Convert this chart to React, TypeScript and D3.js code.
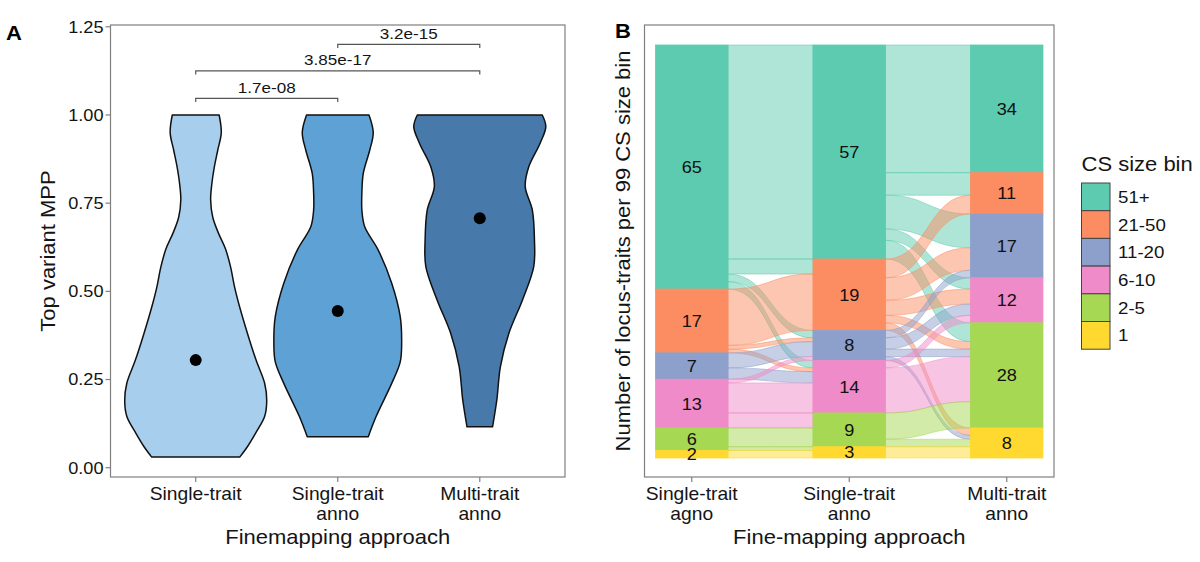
import React from "react";
import * as d3 from "d3";

const FONT = "'Liberation Sans', Arial, Helvetica, sans-serif";
const SX = 1.1;
const TEXT = "#141414";
const AXIS = "#7f7f7f";

// ---------- Panel A data ----------
const approachesA = ["Single-trait", "Single-trait anno", "Multi-trait anno"];
const tickLinesA = [["Single-trait"], ["Single-trait", "anno"], ["Multi-trait", "anno"]];
const violinFills = ["#A7CEEC", "#5EA2D5", "#4779AA"];
// [MPP value, relative density]
const densitySingle: [number, number][] = [
  [1.0, 0.33], [0.95, 0.36], [0.9, 0.31], [0.85, 0.26], [0.81, 0.23], [0.76, 0.21],
  [0.71, 0.24], [0.665, 0.32], [0.62, 0.42], [0.57, 0.49], [0.51, 0.55], [0.455, 0.62],
  [0.38, 0.73], [0.305, 0.85], [0.24, 0.97], [0.19, 1.0], [0.145, 0.97], [0.1, 0.85],
  [0.06, 0.73], [0.03, 0.62],
];
const densitySingleAnno: [number, number][] = [
  [1.0, 0.44], [0.95, 0.5], [0.9, 0.45], [0.835, 0.36], [0.78, 0.34], [0.73, 0.34],
  [0.683, 0.38], [0.617, 0.57], [0.523, 0.76], [0.428, 0.88], [0.353, 0.9], [0.3, 0.88],
  [0.239, 0.76], [0.145, 0.54], [0.088, 0.43],
];
const densityMultiAnno: [number, number][] = [
  [1.0, 0.88], [0.967, 0.93], [0.92, 0.85], [0.853, 0.69], [0.797, 0.64], [0.731, 0.74],
  [0.646, 0.77], [0.57, 0.76], [0.475, 0.6], [0.381, 0.41], [0.286, 0.29], [0.192, 0.24],
  [0.116, 0.18],
];
const densities = [densitySingle, densitySingleAnno, densityMultiAnno];
const meanMPP = [0.305, 0.444, 0.707];
const yTicksA = [0, 0.25, 0.5, 0.75, 1.0, 1.25];
const pLabels = ["1.7e-08", "3.85e-17", "3.2e-15"];
const pPairs: [number, number][] = [[0, 1], [0, 2], [1, 2]];
const pHeights = [1.047, 1.125, 1.2];

// ---------- Panel B data ----------
const approachesB = ["Single-trait agno", "Single-trait anno", "Multi-trait anno"];
const tickLinesB = [["Single-trait", "agno"], ["Single-trait", "anno"], ["Multi-trait", "anno"]];
const csBins = ["51+", "21-50", "11-20", "6-10", "2-5", "1"];
const binColors = ["#5DCBB0", "#FC8D62", "#8DA0CB", "#EF8BC8", "#A6D854", "#FFD92F"];
const countsAgno = [65, 17, 7, 13, 6, 2];
const countsAnno = [57, 19, 8, 14, 9, 3];
const countsMulti = [34, 11, 17, 12, 28, 8];
// [from bin index, to bin index, count]
const flowsAgnoToAnno: [number, number, number][] = [
  [0, 0, 57], [0, 1, 4], [0, 2, 2], [0, 3, 2],
  [1, 1, 15], [1, 2, 1], [1, 3, 1],
  [2, 2, 4], [2, 3, 3],
  [3, 2, 1], [3, 3, 8], [3, 4, 4],
  [4, 4, 5], [4, 5, 1],
  [5, 5, 2],
];
const flowsAnnoToMulti: [number, number, number][] = [
  [0, 0, 34], [0, 1, 6], [0, 2, 9], [0, 3, 3], [0, 4, 5],
  [1, 1, 5], [1, 2, 6], [1, 3, 4], [1, 4, 2], [1, 5, 2],
  [2, 2, 2], [2, 3, 3], [2, 4, 2], [2, 5, 1],
  [3, 3, 2], [3, 4, 12],
  [4, 4, 7], [4, 5, 2],
  [5, 5, 3],
];

type TxtProps = {
  x: number; y: number; size: number; anchor?: string; rot?: number;
  weight?: string; fill?: string; dy?: string; children: React.ReactNode;
};
function Txt({ x, y, size, anchor = "middle", rot = 0, weight = "normal", fill = TEXT, dy, children }: TxtProps) {
  return (
    <text
      transform={`translate(${x},${y}) rotate(${rot}) scale(${SX},1)`}
      fontSize={size}
      fontFamily={FONT}
      textAnchor={anchor as any}
      fontWeight={weight}
      fill={fill}
      dy={dy}
    >
      {children}
    </text>
  );
}

function stack(counts: number[]) {
  let acc = 0;
  return counts.map((c) => {
    const top = acc;
    acc += c;
    return { top, bottom: acc };
  });
}

export default function App() {
  const W = 1200, H = 562;

  // ---- Panel A ----
  const pA = { left: 110.5, right: 565, top: 25, bottom: 477 };
  const xA = d3.scalePoint<string>().domain(approachesA).range([pA.left, pA.right]).padding(0.6);
  const yA = d3.scaleLinear().domain([0, 1.25]).range([467.7, 26.8]);
  const wA = d3.scaleLinear().domain([0, 1]).range([0, 71]);

  const violinPaths = densities.map((dens, i) => {
    const cx = xA(approachesA[i])!;
    const area = d3
      .area<[number, number]>()
      .y((d) => yA(d[0]))
      .x0((d) => cx - wA(d[1]))
      .x1((d) => cx + wA(d[1]))
      .curve(d3.curveCatmullRom);
    return area(dens) || "";
  });

  // ---- Panel B ----
  const pB = { left: 644.5, right: 1054, top: 25, bottom: 477 };
  const xB = d3.scalePoint<string>().domain(approachesB).range([pB.left, pB.right]).padding(0.3);
  const total = d3.sum(countsAgno);
  const yB = d3.scaleLinear().domain([0, total]).range([458, 45]);
  const halfW = xB.step() * 0.23;
  const yFromTop = (v: number) => yB(total - v);

  const columns = [countsAgno, countsAnno, countsMulti];
  const stacks = columns.map(stack);

  const gaps = [flowsAgnoToAnno, flowsAnnoToMulti];
  const flowPaths: { d: string; color: string }[] = [];
  gaps.forEach((flows, g) => {
    const left = stacks[g];
    const right = stacks[g + 1];
    const x0 = xB(approachesB[g])! + halfW;
    const x1 = xB(approachesB[g + 1])! - halfW;
    const xm = (x0 + x1) / 2;
    const leftOff = new Map<string, number>();
    const rightOff = new Map<string, number>();
    csBins.forEach((_, s) => {
      let acc = left[s].top;
      flows.filter((f) => f[0] === s).sort((a, b) => a[1] - b[1]).forEach((f) => {
        leftOff.set(`${f[0]}-${f[1]}`, acc);
        acc += f[2];
      });
    });
    csBins.forEach((_, t) => {
      let acc = right[t].top;
      flows.filter((f) => f[1] === t).sort((a, b) => a[0] - b[0]).forEach((f) => {
        rightOff.set(`${f[0]}-${f[1]}`, acc);
        acc += f[2];
      });
    });
    flows.forEach((f) => {
      const key = `${f[0]}-${f[1]}`;
      const lo = leftOff.get(key)!;
      const ro = rightOff.get(key)!;
      const yl0 = yFromTop(lo), yl1 = yFromTop(lo + f[2]);
      const yr0 = yFromTop(ro), yr1 = yFromTop(ro + f[2]);
      const d = `M${x0},${yl0}C${xm},${yl0} ${xm},${yr0} ${x1},${yr0}L${x1},${yr1}C${xm},${yr1} ${xm},${yl1} ${x0},${yl1}Z`;
      flowPaths.push({ d, color: binColors[f[0]] });
    });
  });

  const legendX = 1081.5, legendY = 183, keyW = 28.5, keyH = 27.7;

  return (
    <svg width={W} height={H} style={{ position: "absolute", left: 0, top: 0, display: "block", background: "#fff" }}>
      <rect width={W} height={H} fill="#fff" />

      {/* ================= Panel A ================= */}
      <Txt x={6} y={40} size={20} anchor="start" weight="bold" fill="#000">A</Txt>
      {violinPaths.map((d, i) => (
        <path key={i} d={d} fill={violinFills[i]} stroke="#111" strokeWidth={1.5} strokeLinejoin="round" />
      ))}
      {meanMPP.map((m, i) => (
        <circle key={i} cx={xA(approachesA[i])!} cy={yA(m)} r={6} fill="#000" />
      ))}
      {pPairs.map(([a, b], i) => {
        const xa = xA(approachesA[a])!, xb = xA(approachesA[b])!;
        const y = yA(pHeights[i]);
        const yd = yA(pHeights[i] - 0.01);
        return (
          <g key={i}>
            <path d={`M${xa},${yd}L${xa},${y}L${xb},${y}L${xb},${yd}`} fill="none" stroke="#555" strokeWidth={1.2} />
            <Txt x={(xa + xb) / 2} y={y - 5.5} size={15.5}>{pLabels[i]}</Txt>
          </g>
        );
      })}
      <rect x={pA.left} y={pA.top} width={pA.right - pA.left} height={pA.bottom - pA.top} fill="none" stroke={AXIS} strokeWidth={1.2} />
      {yTicksA.map((t) => (
        <g key={t}>
          <line x1={pA.left - 5} x2={pA.left} y1={yA(t)} y2={yA(t)} stroke={AXIS} strokeWidth={1.2} />
          <Txt x={pA.left - 7} y={yA(t)} size={16.5} anchor="end" dy="0.36em">{t.toFixed(2)}</Txt>
        </g>
      ))}
      {approachesA.map((c, i) => (
        <g key={c}>
          <line x1={xA(c)!} x2={xA(c)!} y1={pA.bottom} y2={pA.bottom + 5} stroke={AXIS} strokeWidth={1.2} />
          {tickLinesA[i].map((ln, j) => (
            <Txt key={j} x={xA(c)!} y={pA.bottom + 23 + j * 20} size={17.5}>{ln}</Txt>
          ))}
        </g>
      ))}
      <Txt x={(pA.left + pA.right) / 2} y={544} size={20}>Finemapping approach</Txt>
      <Txt x={55} y={(pA.top + pA.bottom) / 2} size={20} rot={-90}>Top variant MPP</Txt>

      {/* ================= Panel B ================= */}
      <Txt x={615} y={38} size={20} anchor="start" weight="bold" fill="#000">B</Txt>
      {flowPaths.map((f, i) => (
        <path key={i} d={f.d} fill={f.color} fillOpacity={0.5} stroke={f.color} strokeOpacity={0.5} strokeWidth={1} />
      ))}
      {stacks.map((st, c) => {
        const cx = xB(approachesB[c])!;
        return (
          <g key={c}>
            {st.map((s, b) => (
              <rect
                key={b}
                x={cx - halfW}
                y={yFromTop(s.top)}
                width={halfW * 2}
                height={yB(0) - yB(s.bottom - s.top)}
                fill={binColors[b]}
                stroke={binColors[b]}
                strokeWidth={0.8}
              />
            ))}
            {st.map((s, b) => (
              <Txt key={`t${b}`} x={cx} y={(yFromTop(s.top) + yFromTop(s.bottom)) / 2} size={16.5} dy="0.36em" fill="#111">
                {columns[c][b]}
              </Txt>
            ))}
          </g>
        );
      })}
      <rect x={pB.left} y={pB.top} width={pB.right - pB.left} height={pB.bottom - pB.top} fill="none" stroke={AXIS} strokeWidth={1.2} />
      {approachesB.map((c, i) => (
        <g key={c}>
          <line x1={xB(c)!} x2={xB(c)!} y1={pB.bottom} y2={pB.bottom + 5} stroke={AXIS} strokeWidth={1.2} />
          {tickLinesB[i].map((ln, j) => (
            <Txt key={j} x={xB(c)!} y={pB.bottom + 23 + j * 20} size={17.5}>{ln}</Txt>
          ))}
        </g>
      ))}
      <Txt x={(pB.left + pB.right) / 2} y={544} size={20}>Fine-mapping approach</Txt>
      <Txt x={630} y={(pB.top + pB.bottom) / 2} size={20} rot={-90}>Number of locus-traits per 99 CS size bin</Txt>

      {/* Legend */}
      <Txt x={legendX} y={171} size={20} anchor="start">CS size bin</Txt>
      {csBins.map((b, i) => (
        <g key={b}>
          <rect x={legendX} y={legendY + i * keyH} width={keyW} height={keyH} fill={binColors[i]} stroke="#444" strokeWidth={1} />
          <Txt x={legendX + keyW + 8} y={legendY + i * keyH + keyH / 2} size={17} anchor="start" dy="0.36em">{b}</Txt>
        </g>
      ))}
    </svg>
  );
}
